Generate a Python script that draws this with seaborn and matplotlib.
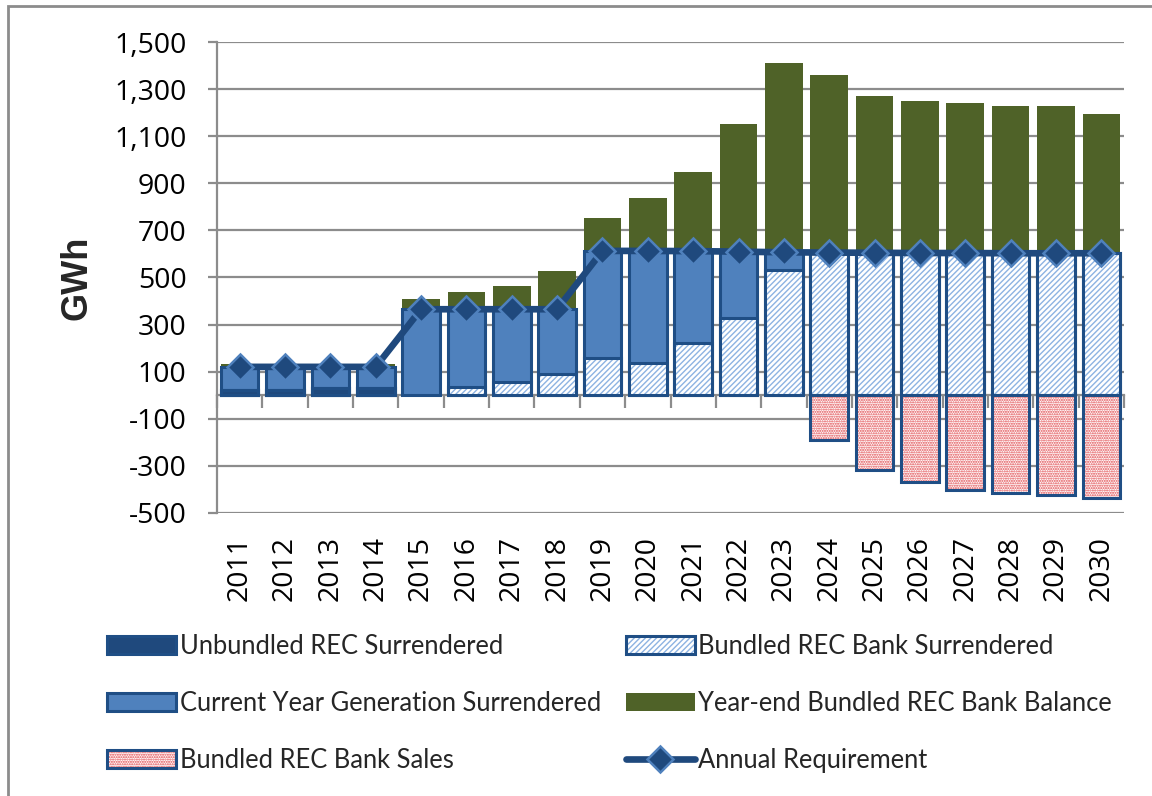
import numpy as np
import matplotlib
matplotlib.use("Agg")
import matplotlib.pyplot as plt
import matplotlib.colors as mcolors
from matplotlib.patches import Rectangle
from matplotlib.ticker import FuncFormatter
import seaborn as sns

# ---------------- data ----------------
years = [str(y) for y in range(2011, 2031)]
unbundled_surrendered = [22, 20, 30, 30, 0, 0, 0, 0, 0, 0, 0, 0, 0, 0, 0, 0, 0, 0, 0, 0]
bundled_bank_surrendered = [0, 0, 0, 0, 0, 35, 57, 90, 156, 135, 220, 327, 533, 606, 605, 604, 604, 603, 603, 603]
current_year_generation = [98, 100, 90, 90, 365, 330, 308, 275, 457, 478, 392, 283, 74, 0, 0, 0, 0, 0, 0, 0]
year_end_bank_balance = [14, 14, 14, 14, 43, 75, 97, 161, 142, 227, 335, 541, 804, 754, 666, 645, 637, 625, 625, 591]
bundled_bank_sales = [0, 0, 0, 0, 0, 0, 0, 0, 0, 0, 0, 0, 0, -189, -317, -370, -402, -417, -426, -436]
annual_requirement = [120, 120, 120, 120, 365, 365, 365, 365, 613, 613, 612, 610, 607, 606, 605, 604, 604, 603, 603, 603]

labels = {
    "unb": "Unbundled REC Surrendered",
    "cur": "Current Year Generation Surrendered",
    "sal": "Bundled REC Bank Sales",
    "bun": "Bundled REC Bank Surrendered",
    "bal": "Year-end Bundled REC Bank Balance",
    "req": "Annual Requirement",
}

DARK = "#1F497D"
MID = "#4F81BD"
GREEN = "#4F6228"
EDGE = "#1F4E85"
HATCH_BLUE = "#8DB3E2"
HATCH_RED = "#E0454A"
GRAY = "#8C8C8C"

sns.set_theme(style="white")
plt.rcParams["font.family"] = ["Lato", "DejaVu Sans"]
plt.rcParams["hatch.linewidth"] = 1.0

fig = plt.figure(figsize=(11.52, 7.96), dpi=100)
ax = fig.add_axes([217 / 1152, 0.3559, 907 / 1152, 0.591])

u = np.array(unbundled_surrendered)
b = np.array(bundled_bank_surrendered)
c = np.array(current_year_generation)
g = np.array(year_end_bank_balance)
lvl1 = u
lvl2 = u + b
lvl3 = u + b + c
lvl4 = lvl3 + g

common = dict(ax=ax, saturation=1, errorbar=None, width=0.83)

sns.barplot(x=years, y=lvl4, color=GREEN, linewidth=0, **common)
green_c = ax.containers[-1]
sns.barplot(x=years, y=lvl3, color=MID, edgecolor=EDGE, linewidth=2.2, **common)
mid_c = ax.containers[-1]
sns.barplot(x=years, y=lvl2, color="white", edgecolor=EDGE, linewidth=2.2, **common)
bun_c = ax.containers[-1]
for p in bun_c:
    p.set_hatch("//////")
    p._hatch_color = mcolors.to_rgba(HATCH_BLUE)
sns.barplot(x=years, y=lvl1, color=DARK, edgecolor=EDGE, linewidth=2.2, **common)
unb_c = ax.containers[-1]
sns.barplot(x=years, y=bundled_bank_sales, color="white", edgecolor=EDGE, linewidth=2.2, **common)
sal_c = ax.containers[-1]
for p in sal_c:
    p.set_hatch(".......")
    p._hatch_color = mcolors.to_rgba(HATCH_RED)

for cont in (mid_c, bun_c, unb_c, sal_c):
    for p in cont:
        if abs(p.get_height()) < 1e-9:
            p.set_linewidth(0)

sns.pointplot(x=years, y=annual_requirement, ax=ax, color=DARK, markers="D",
              linestyles="-", errorbar=None, linewidth=4.8, markersize=13.5,
              markeredgecolor=MID, markeredgewidth=1.8)
req_line = ax.lines[-1]
req_line.set_zorder(5)

# ---------------- axes ----------------
ax.set_xlim(-0.5, 19.5)
ax.set_ylim(-500, 1500)
ax.set_yticks(np.arange(-500, 1501, 200))
ax.yaxis.set_major_formatter(FuncFormatter(lambda v, p: f"{int(v):,}"))
ax.set_axisbelow(True)
ax.yaxis.grid(True, color=GRAY, linewidth=1.6)
ax.xaxis.grid(False)
for s in ("top", "right", "bottom"):
    ax.spines[s].set_visible(False)
ax.spines["left"].set_color(GRAY)
ax.spines["left"].set_linewidth(1.6)
ax.tick_params(axis="y", left=True, length=6.5, width=1.6, color=GRAY,
               labelsize=20.5, labelcolor="black", pad=15.5)
ax.tick_params(axis="x", bottom=True, length=0, labelsize=20.5,
               labelcolor="black", pad=16.5, labelrotation=90)
for t in ax.get_xticklabels() + ax.get_yticklabels():
    t.set_fontfamily(["Open Sans", "DejaVu Sans"])
ax.set_xlabel("")
ax.set_ylabel("GWh", fontsize=26, fontweight="bold", labelpad=14,
              fontfamily=["Liberation Sans", "DejaVu Sans"])

sec = ax.secondary_xaxis(0.25)
sec.set_xticks(np.arange(-0.5, 20, 1))
sec.tick_params(axis="x", bottom=True, length=9, width=1.6, color=GRAY,
                labelbottom=False, direction="out")
sec.spines["bottom"].set_color(GRAY)
sec.spines["bottom"].set_linewidth(1.6)

# ---------------- legend ----------------
leg_kw = dict(frameon=False, fontsize=18.4, handlelength=2.7, handleheight=0.7,
              handletextpad=0.15, labelspacing=1.24, borderpad=0, loc="upper left")
leg1 = fig.legend([unb_c[0], mid_c[0], sal_c[-1]],
                  [labels["unb"], labels["cur"], labels["sal"]],
                  bbox_to_anchor=(0.082, 0.2192), **leg_kw)
leg2 = fig.legend([bun_c[-1], green_c[-1], req_line],
                  [labels["bun"], labels["bal"], labels["req"]],
                  bbox_to_anchor=(0.532, 0.2192), **leg_kw)

# outer chart border
fig.add_artist(Rectangle((8 / 1152, -0.02), 1.05, 1 - 6 / 796 + 0.02,
                         transform=fig.transFigure, fill=False,
                         edgecolor=GRAY, linewidth=2))

fig.savefig("out.png", dpi=100, facecolor="white")
